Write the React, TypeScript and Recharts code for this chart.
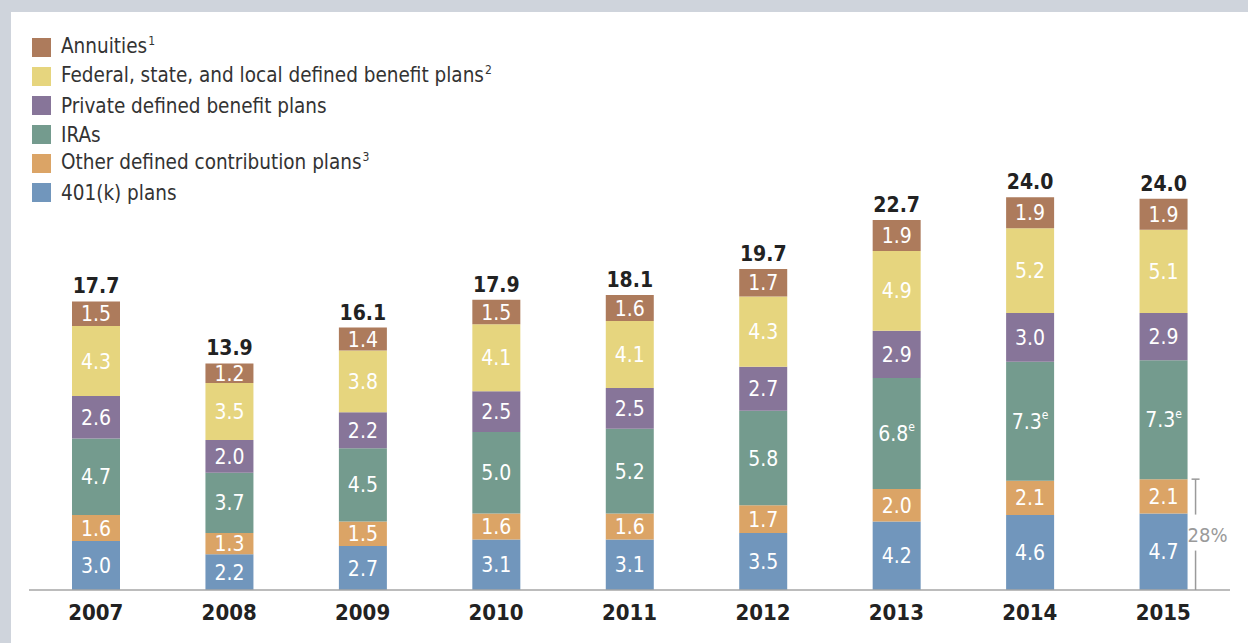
import { Bar, BarChart, LabelList, XAxis, YAxis } from "recharts";

const years = ["2007", "2008", "2009", "2010", "2011", "2012", "2013", "2014", "2015"];
const k401 = [3.0, 2.2, 2.7, 3.1, 3.1, 3.5, 4.2, 4.6, 4.7];
const otherDc = [1.6, 1.3, 1.5, 1.6, 1.6, 1.7, 2.0, 2.1, 2.1];
const iras = [4.7, 3.7, 4.5, 5.0, 5.2, 5.8, 6.8, 7.3, 7.3];
const privateDb = [2.6, 2.0, 2.2, 2.5, 2.5, 2.7, 2.9, 3.0, 2.9];
const govDb = [4.3, 3.5, 3.8, 4.1, 4.1, 4.3, 4.9, 5.2, 5.1];
const annuities = [1.5, 1.2, 1.4, 1.5, 1.6, 1.7, 1.9, 1.9, 1.9];
const totals = [17.7, 13.9, 16.1, 17.9, 18.1, 19.7, 22.7, 24.0, 24.0];
const iraEstimated = [false, false, false, false, false, false, true, true, true];
const shareLabel = "28%";

const COLORS = {
  annuities: "#ad7b5c",
  govDb: "#e6d57e",
  privateDb: "#877599",
  iras: "#749b8e",
  otherDc: "#dba466",
  k401: "#7196bc",
};

const FONT = '"Liberation Sans Narrow", "DejaVu Sans Condensed", sans-serif';

const legendItems = [
  { label: "Annuities", sup: "1", color: COLORS.annuities },
  { label: "Federal, state, and local defined benefit plans", sup: "2", color: COLORS.govDb },
  { label: "Private defined benefit plans", sup: "", color: COLORS.privateDb },
  { label: "IRAs", sup: "", color: COLORS.iras },
  { label: "Other defined contribution plans", sup: "3", color: COLORS.otherDc },
  { label: "401(k) plans", sup: "", color: COLORS.k401 },
];

const chartData = years.map((year, i) => ({
  year,
  k401: k401[i],
  otherDc: otherDc[i],
  iras: iras[i],
  privateDb: privateDb[i],
  govDb: govDb[i],
  annuities: annuities[i],
}));

const fmt = (v: number) => v.toFixed(1);

function ValueLabel(props: any) {
  const { x, y, width, height, value } = props;
  return (
    <text
      x={x + width / 2}
      y={y + height / 2}
      dy="0.36em"
      textAnchor="middle"
      fill="#ffffff"
      fontSize={21}
      fontFamily={FONT}
    >
      {fmt(value)}
    </text>
  );
}

function IraLabel(props: any) {
  const { x, y, width, height, value, index } = props;
  return (
    <text
      x={x + width / 2}
      y={y + height / 2}
      dy="0.36em"
      textAnchor="middle"
      fill="#ffffff"
      fontSize={21}
      fontFamily={FONT}
    >
      {fmt(value)}
      {iraEstimated[index] && (
        <tspan fontSize={12} dy="-0.8em">
          e
        </tspan>
      )}
    </text>
  );
}

function TotalLabel(props: any) {
  const { x, y, width, index } = props;
  return (
    <text
      x={x + width / 2}
      y={y - 8}
      textAnchor="middle"
      fill="#222222"
      fontSize={21}
      fontWeight="bold"
      fontFamily={FONT}
    >
      {fmt(totals[index])}
    </text>
  );
}

// bracket to the right of the last bar spanning 401(k) + other DC
function K401Label(props: any) {
  const { index, value, x, y, width, height } = props;
  const base = <ValueLabel {...props} />;
  if (index !== years.length - 1) return base;
  const perUnit = height / value;
  const top = y - otherDc[index] * perUnit;
  const bottom = y + height;
  const lx = x + width + 8;
  const mid = (top + bottom) / 2;
  return (
    <g>
      {base}
      <line x1={lx - 4} x2={lx + 4} y1={top} y2={top} stroke="#9a9a9a" strokeWidth={1.5} />
      <line x1={lx} x2={lx} y1={top} y2={mid - 20} stroke="#9a9a9a" strokeWidth={1.5} />
      <line x1={lx} x2={lx} y1={mid + 16} y2={bottom} stroke="#9a9a9a" strokeWidth={1.5} />
      <text
        x={lx - 8}
        y={mid}
        dy="0.36em"
        fill="#9a9a9a"
        fontSize={20}
        fontFamily={FONT}
      >
        {shareLabel}
      </text>
    </g>
  );
}

function LegendBox() {
  return (
    <div
      style={{
        position: "absolute",
        left: 32,
        top: 33,
        fontFamily: FONT,
        whiteSpace: "nowrap",
      }}
    >
      {legendItems.map((item) => (
        <div key={item.label} style={{ display: "flex", alignItems: "center", height: 29 }}>
          <div style={{ width: 19, height: 19, background: item.color, marginRight: 10 }} />
          <span style={{ fontSize: 20.5, color: "#333333", lineHeight: "20px" }}>
            {item.label}
            {item.sup && (
              <span style={{ fontSize: 12, position: "relative", top: -8, marginLeft: 1 }}>
                {item.sup}
              </span>
            )}
          </span>
        </div>
      ))}
    </div>
  );
}

export default function App() {
  return (
    <div
      style={{
        position: "absolute",
        left: 0,
        top: 0,
        width: 1248,
        height: 643,
        background: "#cfd4dc",
        overflow: "hidden",
      }}
    >
      <div
        style={{
          position: "absolute",
          left: 11,
          top: 12,
          width: 1237,
          height: 631,
          background: "#ffffff",
        }}
      />
      <div style={{ position: "absolute", left: 0, top: 0 }}>
        <BarChart
          width={1248}
          height={643}
          data={chartData}
          margin={{ top: 101, right: 18, bottom: 13, left: 29 }}
          barSize={48}
        >
          <XAxis
            dataKey="year"
            height={40}
            axisLine={{ stroke: "#a6a6a6", strokeWidth: 1.5 }}
            tickLine={false}
            tickSize={0}
            tickMargin={14}
            tick={{ fill: "#222222", fontSize: 22, fontWeight: "bold", fontFamily: FONT }}
          />
          <YAxis hide domain={[0, 30]} />
          <Bar dataKey="k401" stackId="a" fill={COLORS.k401} isAnimationActive={false}>
            <LabelList dataKey="k401" content={K401Label} />
          </Bar>
          <Bar dataKey="otherDc" stackId="a" fill={COLORS.otherDc} isAnimationActive={false}>
            <LabelList dataKey="otherDc" content={ValueLabel} />
          </Bar>
          <Bar dataKey="iras" stackId="a" fill={COLORS.iras} isAnimationActive={false}>
            <LabelList dataKey="iras" content={IraLabel} />
          </Bar>
          <Bar dataKey="privateDb" stackId="a" fill={COLORS.privateDb} isAnimationActive={false}>
            <LabelList dataKey="privateDb" content={ValueLabel} />
          </Bar>
          <Bar dataKey="govDb" stackId="a" fill={COLORS.govDb} isAnimationActive={false}>
            <LabelList dataKey="govDb" content={ValueLabel} />
          </Bar>
          <Bar dataKey="annuities" stackId="a" fill={COLORS.annuities} isAnimationActive={false}>
            <LabelList dataKey="annuities" content={ValueLabel} />
            <LabelList dataKey="annuities" content={TotalLabel} />
          </Bar>
        </BarChart>
      </div>
      <LegendBox />
    </div>
  );
}
